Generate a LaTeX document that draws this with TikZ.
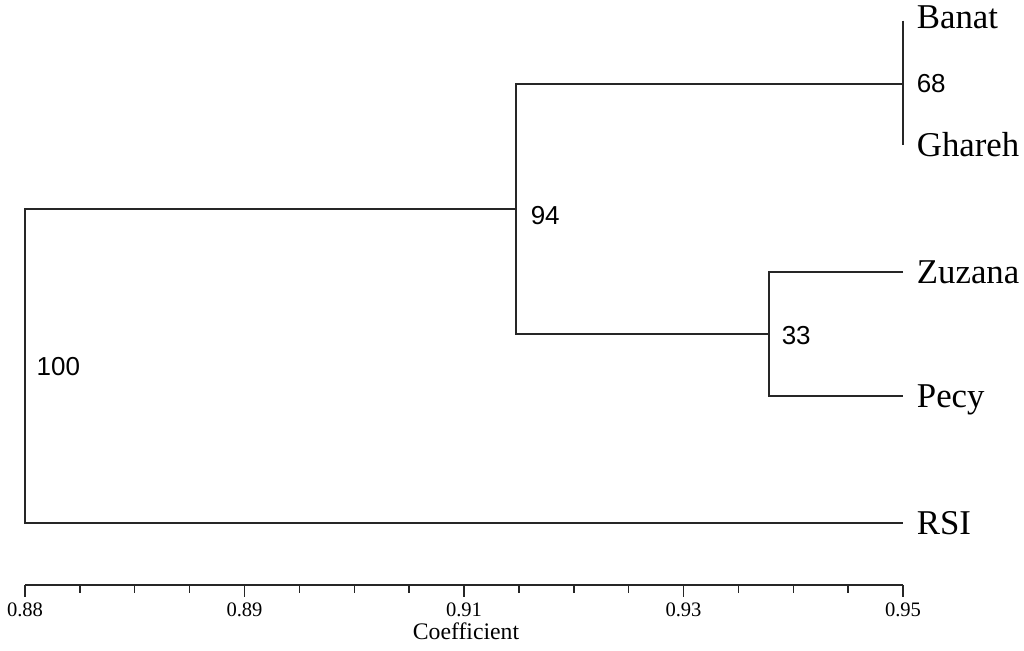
\documentclass[tikz,border=0pt]{standalone}
\usepackage{fontspec}
\setmainfont{Liberation Serif}
\newfontfamily\bootfont{Liberation Sans}
\begin{document}
\begin{tikzpicture}[x=0.02cm, y=-0.02cm, line width=0.85pt, draw=black!85,
    leaf/.style={anchor=west, inner xsep=7.5pt, inner ysep=0pt, text height=13.2pt, text depth=0pt,
      font=\fontsize{19.8}{22}\selectfont},
    boot/.style={anchor=west, inner sep=0pt, font=\bootfont\fontsize{14.8}{16}\selectfont},
    axlab/.style={inner sep=0pt, font=\fontsize{11.7}{13}\selectfont},
    axtitle/.style={inner sep=0pt, font=\fontsize{13.5}{15}\selectfont}]
        \useasboundingbox (0,0) rectangle (1024,650);
        \def \tstep {54.875}

        \node[leaf] (banat) at (903,17) {Banat};
        \node[leaf] (ghareh) at (903,145) {Ghareh};
        \node[leaf] (zuzana) at (903,272) {Zuzana};
        \node[leaf] (pecy) at (903,396) {Pecy};
        \node[leaf] (rsi) at (903,523) {RSI};

        \coordinate (j68) at (903,84);
        \coordinate (j33) at (769,334);
        \coordinate (j94) at (516,209);
        \coordinate (j100) at (25,366);

        \draw ([yshift=-2pt]banat.west) -- (ghareh.west);
        \draw (zuzana.west) -| (j33) |- (pecy.west);
        \draw (j68) -| (j94) |- (j33);
        \draw (j94) -| (j100) |- (rsi.west);

        \node[boot] (b68) at (916,84) {68};
        \node[boot] (b94) at (530,216) {94};
        \node[boot] (b33) at (781,336) {33};
        \node[boot] (b100) at (36,367) {100};

        \coordinate (axl) at (25,585);
        \coordinate (axr) at (903,585);
        \draw (axl) -- (axr);
        \foreach \i in {1,2,3,5,6,7,9,10,11,13,14,15}
          \draw (25+\i*\tstep,585) -- ++(0,8);
        \foreach \i/\lab in {0/0.88, 4/0.89, 8/0.91, 12/0.93, 16/0.95} {
          \draw (25+\i*\tstep,585) -- ++(0,12);
          \node[axlab] (t\i) at (25+\i*\tstep,610) {\lab};
        }
        \node[axtitle] (coef) at (466,631) {Coefficient};
      \end{tikzpicture}
\end{document}
